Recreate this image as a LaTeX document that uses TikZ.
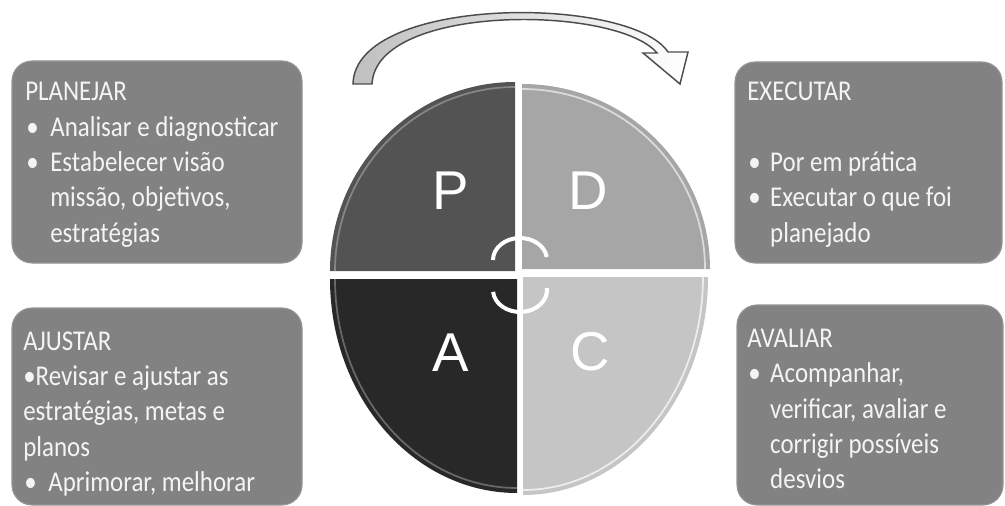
\documentclass[tikz,border=0pt]{standalone}
\usepackage{fontspec}
\usepackage{graphicx}
\setmainfont{Carlito}
\newfontfamily\pdcaletterfont{Liberation Sans}
\definecolor{boxgray}{HTML}{828282}
\definecolor{qP}{HTML}{535353}
\definecolor{qD}{HTML}{A6A6A6}
\definecolor{qA}{HTML}{282828}
\definecolor{qC}{HTML}{C5C5C5}
\definecolor{txtwhite}{HTML}{F4F4F4}
\newcommand\pdcabul{\makebox[21.6pt][l]{\hspace{1pt}•}}
\newcommand\pdcaind{\hspace*{21.6pt}}
\newcommand\pdcabulr{\makebox[19.8pt][l]{\hspace{1pt}•}}
\newcommand\pdcaindr{\hspace*{19.8pt}}
\begin{document}
\begin{tikzpicture}[x=0.75pt,y=-0.75pt,
  infobox/.style={fill=boxgray, draw=boxgray!85!white, line width=0.8pt, rounded corners=15pt},
  boxtext/.style={anchor=base west, inner sep=0pt, text=txtwhite, font=\fontsize{21.5}{26.5}\selectfont},
  letter/.style={inner sep=0pt, text=white, font=\pdcaletterfont\fontsize{41}{41}\selectfont},
  hl/.style={line width=1.3pt, draw=white},
  cyc/.style={draw=white, line width=3pt},
  band/.style={draw=black!70, line width=1.1pt, left color=black!25, right color=white, line join=miter}]
\useasboundingbox (0,0) rectangle (1005,506);
\fill[white] (0,0) rectangle (1005,506);

% info boxes
\path[infobox] (12,61) rectangle (302,263);
\path[infobox] (12,308) rectangle (302,505);
\path[infobox] (735,62) rectangle (1002,263);
\path[infobox] (737,305) rectangle (1003,505);

\node[boxtext] (plan) at (25,101) {\scalebox{0.87}[1]{\vtop{%
  \hbox{PLANEJAR}
  \hbox{\pdcabul Analisar e diagnosticar}
  \hbox{\pdcabul Estabelecer visão}
  \hbox{\pdcaind missão, objetivos,}
  \hbox{\pdcaind estratégias}}}};

\node[boxtext] (ajus) at (23,350) {\scalebox{0.87}[1]{\vtop{%
  \hbox{AJUSTAR}
  \hbox{•Revisar e ajustar as}
  \hbox{estratégias, metas e}
  \hbox{planos}
  \hbox{\pdcabul Aprimorar, melhorar}}}};

\node[boxtext] (exec) at (747,101) {\scalebox{0.87}[1]{\vtop{%
  \hbox{EXECUTAR}
  \hbox{}
  \hbox{\pdcabulr Por em prática}
  \hbox{\pdcabulr Executar o que foi}
  \hbox{\pdcaindr planejado}}}};

\node[boxtext] (aval) at (747,347.5) {\scalebox{0.87}[1]{\vtop{%
  \hbox{AVALIAR}
  \hbox{\pdcabulr Acompanhar,}
  \hbox{\pdcaindr verificar, avaliar e}
  \hbox{\pdcaindr corrigir possíveis}
  \hbox{\pdcaindr desvios}}}};

% pie quadrants
\fill[qP] (515,271) -- (330,271) arc[start angle=180, end angle=270, x radius=185, y radius=189] -- cycle;
\fill[qD] (522,269) -- (522,84) arc[start angle=270, end angle=360, x radius=188, y radius=185] -- cycle;
\fill[qA] (517,279) -- (330,279) arc[start angle=180, end angle=90, x radius=187, y radius=214] -- cycle;
\fill[qC] (523,277) -- (523,495) arc[start angle=90, end angle=0, x radius=185, y radius=218] -- cycle;

% highlights
\draw[hl, draw opacity=0.3] (335,271) arc[start angle=180, end angle=270, x radius=180, y radius=184];
\draw[hl, draw opacity=0.6] (522,89) arc[start angle=270, end angle=360, x radius=183, y radius=180];
\draw[hl, draw opacity=0.3] (335,279) arc[start angle=180, end angle=90, x radius=182, y radius=209];
\draw[hl, draw opacity=0.7] (523,490) arc[start angle=90, end angle=0, x radius=180, y radius=213];

% letters
\node[letter] (P) at (451,191) {P};
\node[letter] (D) at (588,191) {D};
\node[letter] (A) at (451,353) {A};
\node[letter] (C) at (590,352) {C};

% central circular arrows
\draw[cyc] (493,260) arc[start angle=180, end angle=352, x radius=27, y radius=22];
\draw[cyc] (493.1,291.9) arc[start angle=175, end angle=-5, x radius=27, y radius=22];

% top curved arrow
\path[band] (353,84) .. controls (355,-5) and (630,-5) .. (668,52)
  -- (688,52) -- (680,84) -- (643,53) -- (657,53)
  .. controls (617,5) and (376,3) .. (372,84) -- cycle;
\end{tikzpicture}
\end{document}
